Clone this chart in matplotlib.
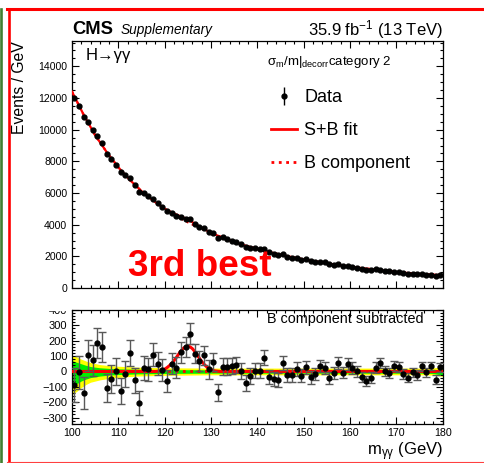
import numpy as np
import matplotlib
matplotlib.use("Agg")
import matplotlib.pyplot as plt
from matplotlib.ticker import MultipleLocator
from matplotlib.lines import Line2D
from matplotlib.patches import Rectangle

plt.rcParams['font.family'] = ['Liberation Sans', 'DejaVu Sans']
plt.rcParams['mathtext.fontset'] = 'custom'
plt.rcParams['mathtext.rm'] = 'Liberation Sans'
plt.rcParams['mathtext.it'] = 'Liberation Sans:italic'
plt.rcParams['mathtext.bf'] = 'Liberation Sans:bold'

# ---- data ----
mass = np.arange(100.5, 180.0, 1.0)   # bin centres, 1 GeV bins

events = [12030, 11510, 10790, 10510, 9980, 9610, 9150, 8465, 8135, 7800,
          7330, 7120, 6940, 6490, 6050, 6020, 5780, 5635, 5365, 5112,
          4845, 4760, 4570, 4500, 4385, 4330, 4050, 3880, 3780, 3556,
          3476, 3150, 3205, 3085, 2980, 2890, 2760, 2598, 2553, 2510,
          2448, 2432, 2248, 2154, 2072, 2125, 1972, 1921, 1892, 1800,
          1820, 1699, 1653, 1665, 1613, 1496, 1480, 1510, 1396, 1415,
          1352, 1292, 1225, 1150, 1165, 1190, 1150, 1065, 1055, 1040,
          990, 925, 900, 895, 886, 870, 852, 830, 779, 845]

residual = [-87, -4, -140, 104, 72, 186, 159, -108, -49, 2,
            -125, -17, 120, -57, -203, 21, 13, 110, 51, 8,
            -61, 51, 25, 125, 161, 247, 116, 68, 104, 13,
            61, -135, 32, 30, 36, 42, 2, -74, -30, 6,
            4, 89, -36, -47, -55, 55, -23, -23, 17, -27,
            27, -38, -15, 36, 23, -40, -8, 55, -8, 49,
            23, 2, -36, -63, -40, 25, 55, 2, -8, 34,
            27, -17, -40, -6, -23, 34, -6, 36, -53, 27]

# background fit (B component)
bkg_mass = [100, 102.5, 105, 107.5, 110, 112.5, 115, 117.5, 120, 122.5,
            125, 127.5, 130, 132.5, 135, 137.5, 140, 142.5, 145, 147.5,
            150, 152.5, 155, 157.5, 160, 162.5, 165, 167.5, 170, 172.5,
            175, 177.5, 180]
bkg_fit = [12400, 10950, 9650, 8580, 7620, 6820, 6120, 5520, 5000, 4550,
           4150, 3800, 3480, 3180, 2900, 2670, 2470, 2280, 2100, 1950,
           1810, 1680, 1560, 1450, 1350, 1260, 1175, 1085, 1010, 945,
           890, 845, 805]

# signal part of the S+B fit
sig_mass = [100, 118, 119, 119.5, 120, 120.5, 121, 121.5, 122, 122.5,
            123, 123.5, 124, 124.5, 125, 125.5, 126, 126.5, 127, 127.5,
            128, 128.5, 129, 129.5, 130, 130.5, 131, 132, 180]
sig_fit = [0, 0, 3, 8, 15, 25, 37, 52, 70, 90,
           112, 133, 150, 161, 165, 160, 148, 130, 108, 86,
           65, 47, 32, 20, 12, 6, 3, 0, 0]

# 1 and 2 sigma bands of the background fit
band_mass = [100, 101, 102, 103, 104, 106, 108, 110, 114, 120,
             130, 140, 160, 175, 178, 179.5, 180]
band2_hi = [105, 95, 80, 68, 58, 45, 38, 34, 28, 24, 22, 22, 22, 22, 24, 28, 30]
band2_lo = [-150, -130, -105, -85, -70, -55, -45, -38, -30, -25,
            -22, -22, -22, -22, -24, -30, -32]
band1_hi = [70, 60, 50, 40, 32, 24, 20, 17, 14, 12, 11, 11, 11, 11, 12, 14, 15]
band1_lo = [-95, -80, -62, -50, -40, -30, -24, -20, -16, -13,
            -11, -11, -11, -11, -13, -22, -25]

events = np.array(events, dtype=float)
residual = np.array(residual, dtype=float)
err = np.sqrt(events)

# S+B curve on the union of both grids
sb_x = np.union1d(bkg_mass, sig_mass)
sb_y = np.interp(sb_x, bkg_mass, bkg_fit) + np.interp(sb_x, sig_mass, sig_fit)

# ---- figure ----
W, H = 485, 463
fig = plt.figure(figsize=(W / 100, H / 100), dpi=100)
ax1 = fig.add_axes([72 / W, 1 - 288 / H, 370.7 / W, 247 / H])
ax2 = fig.add_axes([72 / W, 1 - 423.7 / H, 370.7 / W, 113.7 / H])

# top panel
ax1.plot(bkg_mass, bkg_fit, color='red', ls=':', lw=1.6, zorder=2)
ax1.plot(sb_x, sb_y, color='red', lw=1.6, zorder=3)
data = ax1.errorbar(mass, events, yerr=err, fmt='o', color='black', ms=3.5,
                    elinewidth=1, capsize=0, zorder=4)
ax1.set_xlim(100, 180)
ax1.set_ylim(0, 15600)
ax1.xaxis.set_major_locator(MultipleLocator(10))
ax1.xaxis.set_minor_locator(MultipleLocator(2))
ax1.yaxis.set_major_locator(MultipleLocator(2000))
ax1.yaxis.set_minor_locator(MultipleLocator(500))
ax1.tick_params(labelbottom=False)
ax1.set_ylabel('Events / GeV', fontsize=11.3, loc='top', labelpad=8)

handles = [data,
           Line2D([], [], color='red', lw=2),
           Line2D([], [], color='red', lw=2, ls=':')]
ax1.legend(handles, ['Data', 'S+B fit', 'B component'], loc='upper left',
           bbox_to_anchor=(0.536, 0.805), frameon=False, fontsize=13,
           handlelength=1.45, handletextpad=0.42, labelspacing=0.88,
           borderpad=0, borderaxespad=0)

ax1.text(0.038, 0.94, 'H\u2192\u03b3\u03b3', transform=ax1.transAxes,
         fontsize=12, va='center', ha='left')
ax1.text(0.525, 0.903, r'$\mathrm{\sigma_{m}/m|_{decorr}category\ 2}$',
         transform=ax1.transAxes, fontsize=9.5, va='baseline', ha='left')
ax1.text(0.15, 0.088, '3rd best', transform=ax1.transAxes, color='red',
         fontsize=26.6, fontweight='bold', va='center', ha='left', zorder=6)
ax1.text(1.0, 1.0 + 6 / 247, r'35.9 fb$^{-1}$ (13 TeV)', transform=ax1.transAxes,
         fontsize=12, ha='right', va='baseline')
fig.text(72 / W, 1 - 34 / H, 'CMS', fontsize=13.2, fontweight='bold',
         ha='left', va='baseline')
fig.text(120.7 / W, 1 - 34 / H, 'Supplementary', fontsize=9.8,
         style='italic', ha='left', va='baseline')

# bottom panel
ax2.fill_between(band_mass, band2_lo, band2_hi, color='#ffff00', lw=0, zorder=1)
ax2.fill_between(band_mass, band1_lo, band1_hi, color='#00ee00', lw=0, zorder=1)
ax2.axhline(0, color='red', ls=':', lw=2, zorder=2)
ax2.plot(sig_mass, sig_fit, color='red', lw=2.2, zorder=3)
ax2.errorbar(mass, residual, yerr=err, fmt='o', color='black', ecolor='0.35',
             ms=3.5, elinewidth=1, capsize=2.8, capthick=1, zorder=4)
ax2.set_xlim(100, 180)
ax2.set_ylim(-340, 400)
ax2.xaxis.set_major_locator(MultipleLocator(10))
ax2.xaxis.set_minor_locator(MultipleLocator(2))
ax2.yaxis.set_major_locator(MultipleLocator(100))
ax2.yaxis.set_minor_locator(MultipleLocator(20))
ax2.tick_params(axis='y', labelsize=8)
ax2.tick_params(axis='x', labelsize=7.7, pad=3)
ax2.set_xlabel(r'm$_{\mathrm{\gamma\gamma}}$ (GeV)', fontsize=12, loc='right',
               labelpad=2)
ax2.text(0.526, 0.921, 'B component subtracted', transform=ax2.transAxes,
         fontsize=10.4, va='center', ha='left')

for ax in (ax1, ax2):
    ax.tick_params(which='both', direction='in', top=True, right=True, width=0.8)
    ax.tick_params(which='major', length=5)
    ax.tick_params(which='minor', length=2.5)
    for sp in ax.spines.values():
        sp.set_linewidth(0.9)
ax1.tick_params(axis='y', labelsize=7.6)

# the upper pad hides the top half of the "400" label
fig.add_artist(Rectangle((30 / W, 1 - 309.5 / H), 40 / W, 15 / H,
                         transform=fig.transFigure, color='white', zorder=10))

# frame lines around the picture
fig.add_artist(Line2D([7 / W, 1], [1 - 9 / H, 1 - 9 / H], transform=fig.transFigure,
                      color='red', lw=2.2))
fig.add_artist(Line2D([8.7 / W, 8.7 / W], [1 - 9 / H, 1 - 461.5 / H],
                      transform=fig.transFigure, color='red', lw=1.9))
fig.add_artist(Line2D([7 / W, 1], [1 - 461.5 / H, 1 - 461.5 / H],
                      transform=fig.transFigure, color='#ff4040', lw=0.8))
fig.add_artist(Line2D([1.3 / W, 1.3 / W], [0, 1 - 9 / H],
                      transform=fig.transFigure, color='#3f7f2f', lw=1.9))

fig.savefig('out.png', dpi=100)
